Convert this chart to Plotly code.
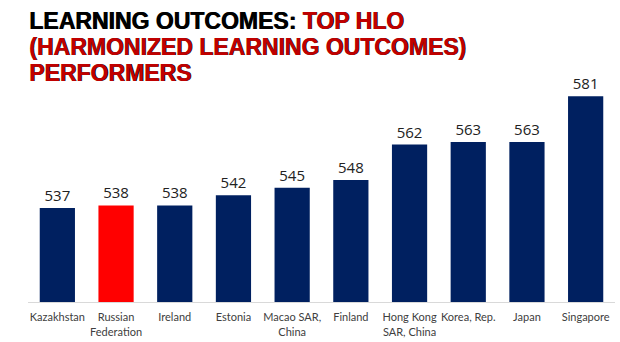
import plotly.graph_objects as go

countries = ["Kazakhstan", "Russian<br>Federation", "Ireland", "Estonia", "Macao SAR,<br>China",
             "Finland", "Hong Kong<br>SAR, China", "Korea, Rep.", "Japan", "Singapore"]
scores = [537, 538, 538, 542, 545, 548, 562, 563, 563, 581]
colors = ["#002060", "#FF0000", "#002060", "#002060", "#002060",
          "#002060", "#002060", "#002060", "#002060", "#002060"]

fig = go.Figure(go.Bar(
    x=countries, y=scores, marker=dict(color=colors, line=dict(width=0)),
    text=[str(s) for s in scores], textposition="outside", cliponaxis=False,
    textfont=dict(family="Open Sans", size=15, color="#222222"),
))

W, H = 620, 342
ml, mr, mt, mb = 28, 5, 48, 40
ph = H - mt - mb

def py(ypx):
    return (H - mb - ypx) / ph

title_font = dict(family="Liberation Sans", size=23, shadow="0.8px 0 0")
lines = [
    ("<b>LEARNING OUTCOMES: <span style='color:#C00000'>TOP HLO</span></b>", 21),
    ("<b><span style='color:#C00000'>(HARMONIZED LEARNING OUTCOMES)</span></b>", 47),
    ("<b><span style='color:#C00000'>PERFORMERS</span></b>", 73),
]
annotations = []
for txt, yc in lines:
    annotations.append(dict(text=txt, xref="paper", yref="paper", x=-0.002, y=py(yc),
                            xanchor="left", yanchor="middle", showarrow=False,
                            font=dict(color="#000000", **title_font)))

fig.update_layout(
    width=W, height=H, margin=dict(l=ml, r=mr, t=mt, b=mb),
    paper_bgcolor="white", plot_bgcolor="white",
    bargap=0.4, showlegend=False,
    annotations=annotations,
    xaxis=dict(showline=True, linecolor="#D9D9D9", linewidth=1, ticks="",
               ticklabelstandoff=5,
               tickfont=dict(family="Lato", size=11, color="#404040")),
    yaxis=dict(range=[500, 600], visible=False, showgrid=False),
)
fig.write_html("out.html")
